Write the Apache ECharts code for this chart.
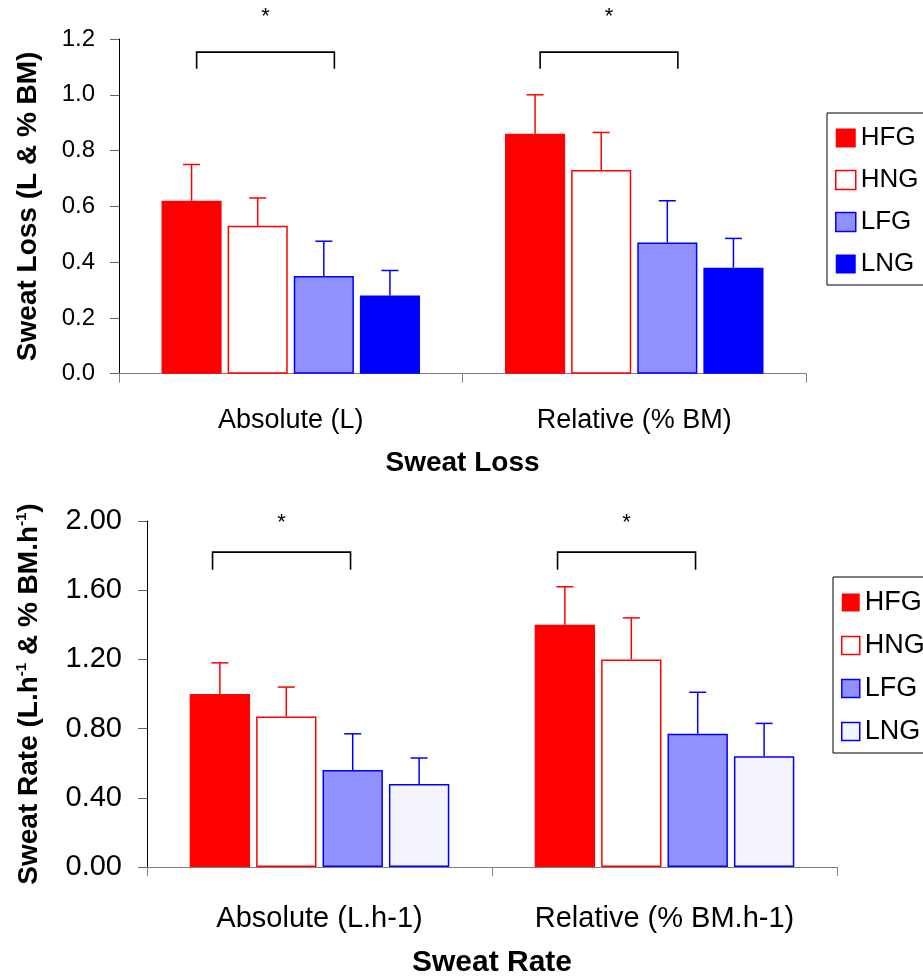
<!DOCTYPE html>
<html>
<head>
<meta charset="utf-8">
<script src="https://cdn.jsdelivr.net/npm/echarts@6/dist/echarts.min.js"></script>
<style>
html,body{margin:0;padding:0;background:#fff;}
#c{width:923px;height:979px;}
</style>
</head>
<body>
<div id="c"></div>
<script>
// ---------- DATA ----------
const groups = ['HFG', 'HNG', 'LFG', 'LNG'];

const lossCats = ['Absolute (L)', 'Relative (% BM)'];
const lossHFG = [0.62, 0.86];
const lossHNG = [0.53, 0.73];
const lossLFG = [0.35, 0.47];
const lossLNG = [0.28, 0.38];
const lossHFGsd = [0.13, 0.14];
const lossHNGsd = [0.10, 0.135];
const lossLFGsd = [0.125, 0.15];
const lossLNGsd = [0.09, 0.105];
const lossTicks = [0, 0.2, 0.4, 0.6, 0.8, 1.0, 1.2];
const lossSig = [0, 1];   // categories with significance bracket

const rateCats = ['Absolute (L.h-1)', 'Relative (% BM.h-1)'];
const rateHFG = [1.00, 1.40];
const rateHNG = [0.87, 1.20];
const rateLFG = [0.56, 0.77];
const rateLNG = [0.48, 0.64];
const rateHFGsd = [0.18, 0.22];
const rateHNGsd = [0.17, 0.24];
const rateLFGsd = [0.21, 0.24];
const rateLNGsd = [0.15, 0.19];
const rateTicks = [0, 0.4, 0.8, 1.2, 1.6, 2.0];
const rateSig = [0, 1];

// ---------- STYLE ----------
const FONT = '"Liberation Sans", Arial, sans-serif';
const RED = '#FF0000', BLUE = '#0000FF', LBLUE = '#9090FF';
const BARW = 0.175, GAP = 0.10;

const lossStyles = [
  {color: RED, borderColor: RED, borderWidth: 0},
  {color: '#FFFFFF', borderColor: RED, borderWidth: 1.5},
  {color: LBLUE, borderColor: BLUE, borderWidth: 1.5},
  {color: BLUE, borderColor: BLUE, borderWidth: 0}
];
const rateStyles = [
  {color: RED, borderColor: RED, borderWidth: 0},
  {color: '#FFFFFF', borderColor: RED, borderWidth: 1.5},
  {color: LBLUE, borderColor: BLUE, borderWidth: 1.5},
  {color: '#F4F4FF', borderColor: BLUE, borderWidth: 1.5}
];
const errColors = [RED, RED, BLUE, BLUE];

const lossBracket = {from: -0.274, to: 0.127, top: 1.153, bottom: 1.093, star: 1.28};
const rateBracket = {from: -0.31, to: 0.09, top: 1.82, bottom: 1.718, star: 1.99};

const lossVals = [lossHFG, lossHNG, lossLFG, lossLNG];
const lossSds = [lossHFGsd, lossHNGsd, lossLFGsd, lossLNGsd];
const rateVals = [rateHFG, rateHNG, rateLFG, rateLNG];
const rateSds = [rateHFGsd, rateHNGsd, rateLFGsd, rateLNGsd];

function errData(vals, sds) {
  const out = [];
  vals.forEach((arr, k) => arr.forEach((v, i) => out.push([i, k, v, sds[k][i]])));
  return out;
}

function errRender(params, api) {
  const cat = api.value(0), k = api.value(1), v = api.value(2), sd = api.value(3);
  const band = api.size([1, 0])[0];
  const step = band * BARW * (1 + GAP);
  const cx = api.coord([cat, 0])[0] + (k - 1.5) * step;
  const y0 = api.coord([cat, v])[1];
  const y1 = api.coord([cat, v + sd])[1];
  const c = errColors[k];
  return {
    type: 'group',
    children: [
      {type: 'line', shape: {x1: cx, y1: y0, x2: cx, y2: y1}, style: {stroke: c, lineWidth: 1.5}},
      {type: 'line', shape: {x1: cx - 8.5, y1: y1, x2: cx + 8.5, y2: y1}, style: {stroke: c, lineWidth: 1.5}}
    ]
  };
}

function bracketRender(L) {
  return function (params, api) {
    const cat = api.value(0);
    const band = api.size([1, 0])[0];
    const c = api.coord([cat, 0])[0];
    const x1 = c + L.from * band, x2 = c + L.to * band;
    const yT = api.coord([cat, L.top])[1];
    const yB = api.coord([cat, L.bottom])[1];
    const yS = api.coord([cat, L.star])[1];
    return {
      type: 'group',
      children: [
        {type: 'polyline', shape: {points: [[x1, yB], [x1, yT], [x2, yT], [x2, yB]]},
         style: {stroke: '#000', lineWidth: 1.6, fill: null}},
        {type: 'text', style: {text: '*', x: (x1 + x2) / 2, y: yS, align: 'center', verticalAlign: 'middle',
          fontSize: 22, fontFamily: FONT, fill: '#000'}}
      ]
    };
  };
}

const series = [];
groups.forEach((g, k) => {
  series.push({
    type: 'bar', name: g, xAxisIndex: 0, yAxisIndex: 0,
    data: lossVals[k], barWidth: (BARW * 100) + '%', barGap: (GAP * 100) + '%',
    itemStyle: lossStyles[k], emphasis: {disabled: true}, animation: false
  });
});
groups.forEach((g, k) => {
  series.push({
    type: 'bar', name: g, xAxisIndex: 1, yAxisIndex: 1,
    data: rateVals[k], barWidth: (BARW * 100) + '%', barGap: (GAP * 100) + '%',
    itemStyle: rateStyles[k], emphasis: {disabled: true}, animation: false
  });
});
series.push({type: 'custom', name: 'errLoss', xAxisIndex: 0, yAxisIndex: 0, renderItem: errRender,
  data: errData(lossVals, lossSds), z: 5, animation: false});
series.push({type: 'custom', name: 'errRate', xAxisIndex: 1, yAxisIndex: 1, renderItem: errRender,
  data: errData(rateVals, rateSds), z: 5, animation: false});
series.push({type: 'custom', name: 'sigLoss', xAxisIndex: 0, yAxisIndex: 0, renderItem: bracketRender(lossBracket),
  data: lossSig.map(i => [i]), clip: false, z: 5, animation: false});
series.push({type: 'custom', name: 'sigRate', xAxisIndex: 1, yAxisIndex: 1, renderItem: bracketRender(rateBracket),
  data: rateSig.map(i => [i]), clip: false, z: 5, animation: false});

function legendCfg(styles, left, top, iconW, iconH, fs, gap) {
  return {
    left: left, top: top, orient: 'vertical',
    itemWidth: iconW, itemHeight: iconH, itemGap: gap,
    padding: [12, 12, 8, 8],
    borderColor: '#000', borderWidth: 1,
    icon: 'rect',
    textStyle: {fontFamily: FONT, fontSize: fs, color: '#000'},
    data: groups.map((g, k) => ({name: g, icon: 'rect', itemStyle: Object.assign({}, styles[k], {borderWidth: styles[k].borderWidth ? 1.5 : 0})})),
    selectedMode: false
  };
}

const option = {
  animation: false,
  backgroundColor: '#fff',
  grid: [
    {left: 119, right: 117, top: 39, height: 334.7},
    {left: 147, right: 86, top: 521, height: 348}
  ],
  legend: [
    legendCfg(lossStyles, 827, 113, 20, 19, 26, 16),
    legendCfg(rateStyles, 833, 577, 18, 18, 27, 16)
  ],
  xAxis: [
    {
      type: 'category', gridIndex: 0, data: lossCats,
      axisLine: {lineStyle: {color: '#808080', width: 1}},
      axisTick: {show: true, length: 9, lineStyle: {color: '#808080'}},
      axisLabel: {fontFamily: FONT, fontSize: 27, color: '#000', margin: 33},
      name: 'Sweat Loss', nameLocation: 'middle', nameGap: 76,
      nameTextStyle: {fontFamily: FONT, fontSize: 28, fontWeight: 'bold', color: '#000'}
    },
    {
      type: 'category', gridIndex: 1, data: rateCats,
      axisLine: {lineStyle: {color: '#808080', width: 1}},
      axisTick: {show: true, length: 9, lineStyle: {color: '#808080'}},
      axisLabel: {fontFamily: FONT, fontSize: 29, color: '#000', margin: 37},
      name: 'Sweat Rate', nameLocation: 'middle', nameGap: 81,
      nameTextStyle: {fontFamily: FONT, fontSize: 30, fontWeight: 'bold', color: '#000'}
    }
  ],
  yAxis: [
    {
      type: 'value', gridIndex: 0, min: lossTicks[0], max: lossTicks[lossTicks.length - 1],
      interval: lossTicks[1] - lossTicks[0],
      axisLine: {show: true, lineStyle: {color: '#000', width: 1}},
      axisTick: {show: true, length: 9, lineStyle: {color: '#606060'}},
      splitLine: {show: false},
      axisLabel: {fontFamily: FONT, fontSize: 24, color: '#000', margin: 24, formatter: v => v.toFixed(1)},
      name: 'Sweat Loss (L & % BM)', nameLocation: 'middle', nameGap: 77,
      nameTextStyle: {fontFamily: FONT, fontSize: 28, fontWeight: 'bold', color: '#000'}
    },
    {
      type: 'value', gridIndex: 1, min: rateTicks[0], max: rateTicks[rateTicks.length - 1],
      interval: rateTicks[1] - rateTicks[0],
      axisLine: {show: true, lineStyle: {color: '#000', width: 1}},
      axisTick: {show: true, length: 9, lineStyle: {color: '#606060'}},
      splitLine: {show: false},
      axisLabel: {fontFamily: FONT, fontSize: 29, color: '#000', margin: 25, formatter: v => v.toFixed(2)},
      name: 'Sweat Rate (L.h{sup|-1} & % BM.h{sup|-1})', nameLocation: 'middle', nameGap: 103,
      nameTextStyle: {fontFamily: FONT, fontSize: 28, fontWeight: 'bold', color: '#000',
        rich: {sup: {fontFamily: FONT, fontSize: 15, fontWeight: 'bold', color: '#000', verticalAlign: 'top', lineHeight: 30}}}
    }
  ],
  series: series
};

const chart = echarts.init(document.getElementById('c'), null, {renderer: 'canvas'});
chart.setOption(option);
</script>
</body>
</html>
